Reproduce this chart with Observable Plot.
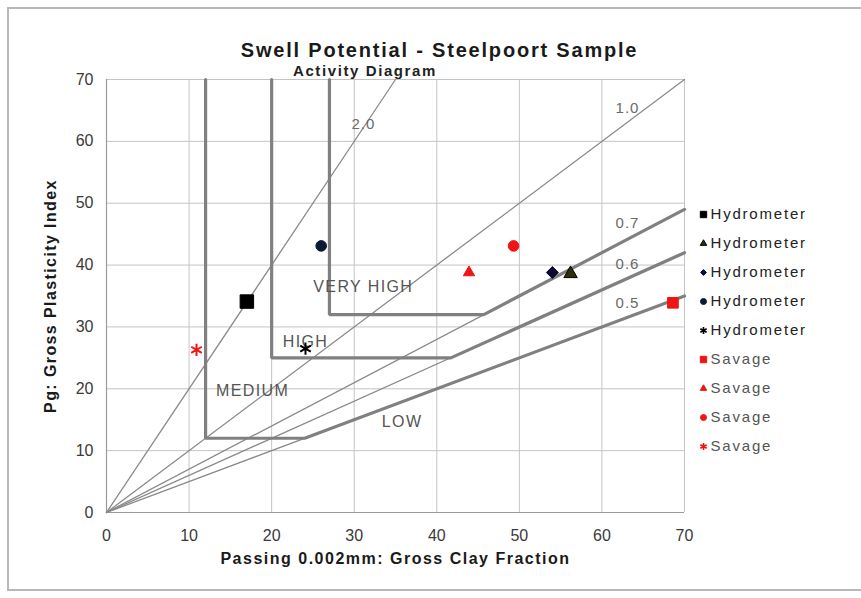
<!DOCTYPE html>
<html>
<head>
<meta charset="utf-8">
<script src="https://cdn.jsdelivr.net/npm/d3@7"></script>
<script src="https://cdn.jsdelivr.net/npm/@observablehq/plot@0.6"></script>
<style>
  html, body { margin: 0; padding: 0; background: #fff; }
  #wrap { position: relative; width: 861px; height: 598px; overflow: hidden; font-family: "Liberation Sans", Arial, sans-serif; }
  #frame { position: absolute; left: 7px; top: 7px; width: 900px; height: 584px; border: 2px solid #b8b8b8; box-sizing: border-box; }
  #main { position: absolute; left: 0; top: 0; }
  #legend { position: absolute; left: 695px; top: 180px; }
</style>
</head>
<body>
<div id="wrap">
  <div id="frame"></div>
  <div id="main"></div>
  <div id="legend"></div>
</div>
<script>
// ---- data ----
const chartTitle = "Swell Potential - Steelpoort Sample";
const xTitle = "Passing 0.002mm: Gross Clay Fraction";
const yTitle = "Pg: Gross Plasticity Index";
const xTicks = [0, 10, 20, 30, 40, 50, 60, 70];
const yTicks = [0, 10, 20, 30, 40, 50, 60, 70];

// activity lines from origin: Pg = ratio * clay
const activityRatio = [2.0, 1.0, 0.7, 0.6, 0.5];
const activityEndX = [35, 70, 70, 70, 70];
const activityLabel = ["2.0", "1.0", "0.7", "0.6", "0.5"];
const activityLabelX = [31.1, 63.1, 63.1, 63.1, 63.1];
const activityLabelY = [62.7, 65.4, 46.8, 40.1, 33.9];

// zone boundaries (thick)
const zoneBoundaryX = [[12, 12, 24, 70], [20, 20, 41.7, 70], [27, 27, 45.7, 70]];
const zoneBoundaryY = [[70, 12, 12, 35], [70, 25, 25, 42], [70, 32, 32, 49]];

const zoneLabel = ["VERY HIGH", "HIGH", "MEDIUM", "LOW"];
const zoneLabelX = [31.1, 24.1, 17.7, 35.8];
const zoneLabelY = [36.5, 27.6, 19.7, 14.7];

const diagramLabel = ["Activity Diagram"];
const diagramLabelX = [31.3];
const diagramLabelY = [71.4];

// sample points
const pointSeries = ["Hydrometer", "Hydrometer", "Hydrometer", "Hydrometer", "Hydrometer", "Savage", "Savage", "Savage", "Savage"];
const pointMarker = ["square", "triangle", "diamond2", "circle", "asterisk", "square", "triangle", "circle", "asterisk"];
const clayFraction = [17.0, 56.2, 54.0, 26.0, 24.1, 68.6, 43.9, 49.3, 10.9];
const plasticityIndex = [34.1, 38.6, 38.8, 43.1, 26.5, 33.9, 38.8, 43.1, 26.3];

// ---- styles (kept apart from data) ----
const markerStyle = [
  {fill: "#000000", stroke: "#000000", r: 7.6, lr: 3.6},
  {fill: "#2e2e08", stroke: "#000000", r: 5.0, lr: 2.4},
  {fill: "#0c0c30", stroke: "#0c0c30", r: 5.4, lr: 2.6},
  {fill: "#0b1a33", stroke: "#0b1a33", r: 5.3, lr: 3.0},
  {fill: "none", stroke: "#000000", r: 5.8, lr: 3.4, sw: 2},
  {fill: "#f01414", stroke: "#f01414", r: 6.0, lr: 3.6},
  {fill: "#f01414", stroke: "#f01414", r: 4.2, lr: 2.4},
  {fill: "#f01414", stroke: "#f01414", r: 5.3, lr: 3.0},
  {fill: "none", stroke: "#f01414", r: 5.8, lr: 3.4, sw: 2}
];
const FONT = "'Liberation Sans', Arial, sans-serif";
const letterSpacing = new Map([
  [chartTitle, "1.8px"], [xTitle, "1.5px"], [yTitle, "1.4px"],
  ...zoneLabel.map(t => [t, "1.4px"]), ...activityLabel.map(t => [t, "1px"]),
  ...diagramLabel.map(t => [t, "1.6px"]), ["Hydrometer", "1.8px"], ["Savage", "1.8px"]
]);
function applySpacing(svg) {
  svg.querySelectorAll("text").forEach(t => {
    const ls = letterSpacing.get(t.textContent);
    if (ls) t.style.letterSpacing = ls;
  });
}

// ---- build marks ----
const activityLines = activityRatio.map((a, i) => ({ratio: a, pts: [{x: 0, y: 0}, {x: activityEndX[i], y: a * activityEndX[i]}]}));
const zoneLines = zoneBoundaryX.map((xs, i) => xs.map((x, j) => ({x, y: zoneBoundaryY[i][j]})));
const idx = d3.range(pointSeries.length);

const marks = [
  Plot.gridX(xTicks, {stroke: "#c4c4c4", strokeOpacity: 1, strokeWidth: 1}),
  Plot.gridY(yTicks, {stroke: "#c4c4c4", strokeOpacity: 1, strokeWidth: 1}),
  Plot.ruleX([xTicks[0]], {stroke: "#9a9a9a", strokeWidth: 1.2}),
  Plot.ruleY([yTicks[0]], {stroke: "#9a9a9a", strokeWidth: 1.2}),
  Plot.axisX(xTicks, {tickSize: 0, tickPadding: 17, fontSize: 16, fill: "#3a3a3a", label: null}),
  Plot.axisY(yTicks, {tickSize: 0, tickPadding: 13, fontSize: 16, fill: "#3a3a3a", label: null}),
  ...activityLines.map(l => Plot.line(l.pts, {x: "x", y: "y", stroke: "#8a8a8a", strokeWidth: 1.3})),
  ...zoneLines.map(z => Plot.line(z, {x: "x", y: "y", stroke: "#808080", strokeWidth: 3.2, strokeLinejoin: "miter"})),
  Plot.text(activityLabel, {x: (d, i) => activityLabelX[i], y: (d, i) => activityLabelY[i], text: d => d, fontSize: 15, fill: "#6a6a6a"}),
  Plot.text(zoneLabel, {x: (d, i) => zoneLabelX[i], y: (d, i) => zoneLabelY[i], text: d => d, fontSize: 16, fill: "#555"}),
  Plot.text(diagramLabel, {x: (d, i) => diagramLabelX[i], y: (d, i) => diagramLabelY[i], text: d => d, fontSize: 15, fontWeight: "bold", fill: "#222"}),
  ...idx.map(i => Plot.dot([i], {
    x: d => clayFraction[d], y: d => plasticityIndex[d], symbol: pointMarker[i],
    r: markerStyle[i].r, fill: markerStyle[i].fill, stroke: markerStyle[i].stroke,
    strokeWidth: markerStyle[i].sw || 1
  })),
  Plot.text([chartTitle], {frameAnchor: "top", dx: 44, dy: -37, fontSize: 20, fontWeight: "bold", fill: "#1a1a1a"}),
  Plot.text([xTitle], {frameAnchor: "bottom", dy: 51, fontSize: 16, fontWeight: "bold", fill: "#1a1a1a"}),
  Plot.text([yTitle], {frameAnchor: "left", textAnchor: "middle", dx: -56, rotate: -90, fontSize: 16, fontWeight: "bold", fill: "#1a1a1a"})
];

const chart = Plot.plot({
  width: 861, height: 598,
  marginLeft: 106, marginRight: 177, marginTop: 79, marginBottom: 86,
  x: {domain: [0, 70]},
  y: {domain: [0, 70]},
  style: {fontFamily: FONT, background: "transparent", overflow: "visible"},
  marks
});
applySpacing(chart);
document.getElementById("main").appendChild(chart);

// ---- legend ----
const legend = Plot.plot({
  width: 150, height: 300, margin: 0,
  x: {axis: null, domain: [0, 1]},
  y: {axis: null, type: "point", domain: idx, range: [16, 16 + 8 * 33.6]},
  style: {fontFamily: FONT, background: "transparent", overflow: "visible"},
  marks: [
    ...idx.map(i => Plot.dot([i], {
      y: d => d, frameAnchor: "left", dx: 8, symbol: pointMarker[i],
      r: markerStyle[i].lr, fill: markerStyle[i].fill, stroke: markerStyle[i].stroke,
      strokeWidth: markerStyle[i].sw ? 1.6 : 1
    })),
    Plot.text(idx, {y: d => d, text: d => pointSeries[d], frameAnchor: "left", dx: 15, textAnchor: "start",
      fontSize: 15, fill: d => pointSeries[d] === "Savage" ? "#555" : "#222"})
  ]
});
applySpacing(legend);
document.getElementById("legend").appendChild(legend);
</script>
</body>
</html>
